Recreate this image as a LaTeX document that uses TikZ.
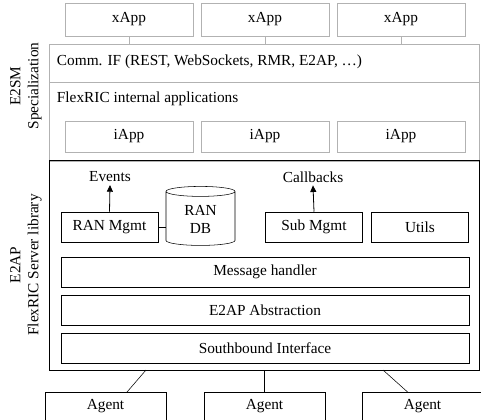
\documentclass[tikz,border=0pt]{standalone}
\usepackage{fontspec}
\setmainfont{Liberation Serif}
\usetikzlibrary{arrows.meta, positioning, shapes.geometric}

\begin{document}
\begin{tikzpicture}[
  x=0.75pt, y=-0.75pt,
  every node/.style={inner sep=2pt, font=\fontsize{11.5}{13.5}\selectfont},
  appbox/.style={draw=gray!60, rectangle, minimum width=96pt, minimum height=24.5pt},
  layer/.style={draw=gray!60, rectangle, anchor=north west, minimum width=322.5pt, minimum height=28.5pt},
  block/.style={draw, rectangle, minimum width=73pt, minimum height=22.5pt},
  bar/.style={draw, rectangle, minimum width=306pt, minimum height=22.5pt},
  agentbox/.style={draw, rectangle, minimum width=91pt, minimum height=21pt},
  arrow/.style={-{Triangle[length=5pt, width=4.5pt]}, semithick}
]
\useasboundingbox (0,0) rectangle (481,419);
\clip (0,0) rectangle (481,419);

% xApps
\node[appbox] (x1) at (129,19.5) {xApp};
\node[appbox] (x2) at (265,19.5) {xApp};
\node[appbox] (x3) at (401,19.5) {xApp};

% E2SM specialization (gray part)
\node[layer] (comm) at (49,44) {};
\node[layer, minimum height=59pt] (iapps) at (49,82) {};
\node[anchor=west] (commtxt) at (54,62) {Comm. IF (REST, WebSockets, RMR, E2AP, \dots)};
\node[anchor=west] (flextxt) at (54,99) {FlexRIC internal applications};
\node[appbox, minimum height=23pt] (i1) at (129,136.5) {iApp};
\node[appbox, minimum height=23pt] (i2) at (265,136.5) {iApp};
\node[appbox, minimum height=23pt] (i3) at (401,136.5) {iApp};

\draw[gray!60] (x1.south) -- (x1.south |- comm.north);
\draw[gray!60] (x2.south) -- (x2.south |- comm.north);
\draw[gray!60] (x3.south) -- (x3.south |- comm.north);

% E2AP server library
\node[draw, line width=1pt, rectangle, anchor=north west, minimum width=322.5pt, minimum height=157.5pt] (server) at (49,160) {};

\node[block] (ranmgmt) at (109.5,227) {RAN Mgmt};
\node[draw, cylinder, shape border rotate=90, aspect=0.22, minimum width=51.75pt, minimum height=44.25pt,
  align=center, text width=30pt] (randb) at (200.5,219.5) {RAN\\DB};
\node[block] (submgmt) at (314,227) {Sub Mgmt};
\node[block] (utils) at (420,227.5) {Utils};

\node (events) at (110,177) {Events};
\node (callbacks) at (313,177) {Callbacks};

\node[bar] (msg) at (265,272) {Message handler};
\node[bar] (abs) at (265,310) {E2AP Abstraction};
\node[bar] (sbi) at (265,348) {Southbound Interface};

\draw[arrow] (ranmgmt.north) -- (events.south);
\draw[arrow] (submgmt.north) -- (callbacks.south);
\draw (ranmgmt.east) -- (randb.west |- ranmgmt.east);

% Agents
\node[agentbox] (a1) at (105.5,406.5) {Agent};
\node[agentbox] (a2) at (264.5,406.5) {Agent};
\node[agentbox] (a3) at (422.5,406.5) {Agent};

\coordinate (s1) at (146,370);
\coordinate (s3) at (383,370);
\draw (s1) -- ([xshift=16pt]a1.north);
\draw (server.south -| a2.north) -- (a2.north);
\draw (s3) -- ([xshift=-11pt]a3.north);

% side labels
\node[rotate=90, align=center] (e2sm) at (26,86) {E2SM\\Specialization};
\node[rotate=90, align=center] (e2ap) at (26,265) {E2AP\\FlexRIC Server library};

\end{tikzpicture}
\end{document}
